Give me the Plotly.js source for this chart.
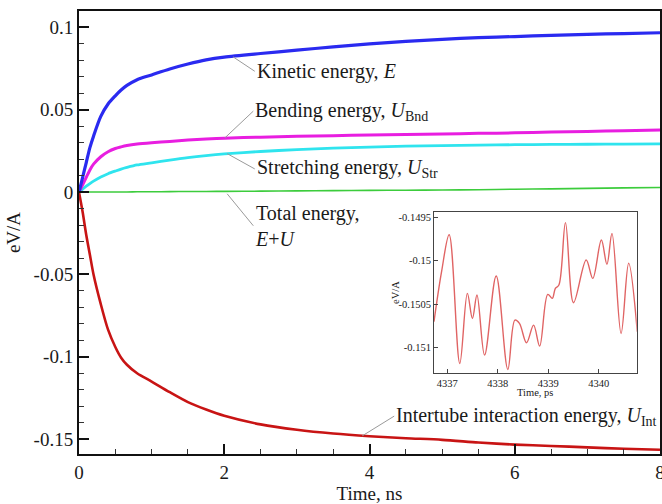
<!DOCTYPE html>
<html>
<head>
<meta charset="utf-8">
<script src="https://cdn.plot.ly/plotly-3.0.1.min.js"></script>
<style>html,body{margin:0;padding:0;background:#fff;}#chart{width:662px;height:504px;}</style>
</head>
<body>
<div id="chart"></div>
<script>
// Main chart: time (ns) and energies (eV/A)
var timeNs = [0, 0.05, 0.1, 0.15, 0.2, 0.3, 0.4, 0.5, 0.58, 0.66, 0.8, 1.0, 1.25, 1.5, 1.75, 2.0, 2.5, 3.0, 3.5, 4.0, 4.5, 5.0, 5.5, 6.0, 6.5, 7.0, 7.5, 8.0];
var kineticE = [0, 0.009, 0.018, 0.027, 0.034, 0.046, 0.0535, 0.0585, 0.062, 0.0648, 0.0683, 0.0712, 0.0748, 0.0778, 0.0803, 0.0820, 0.0842, 0.0862, 0.0882, 0.0900, 0.0915, 0.0928, 0.0938, 0.0945, 0.0952, 0.0958, 0.0963, 0.0968];
var bendingU = [0, 0.0045, 0.009, 0.0135, 0.017, 0.0215, 0.0245, 0.0265, 0.0275, 0.0283, 0.0292, 0.0300, 0.0308, 0.0316, 0.0323, 0.0328, 0.0334, 0.0339, 0.0343, 0.0347, 0.0350, 0.0353, 0.0357, 0.0360, 0.0365, 0.0369, 0.0373, 0.0378];
var stretchingU = [0, 0.0018, 0.0036, 0.0052, 0.0067, 0.0092, 0.0112, 0.0128, 0.014, 0.015, 0.0165, 0.0178, 0.0195, 0.021, 0.0222, 0.0232, 0.0247, 0.0258, 0.0267, 0.0274, 0.0279, 0.0283, 0.0286, 0.0288, 0.029, 0.0291, 0.0292, 0.0293];
var totalEU = [0, 0, 0.00005, 0.0001, 0.0001, 0.0001, 0.0001, 0.0001, 0.0001, 0.0001, 0.0002, 0.0002, 0.0003, 0.0004, 0.0004, 0.0005, 0.0006, 0.0008, 0.0009, 0.0011, 0.0012, 0.0013, 0.0015, 0.0018, 0.002, 0.0023, 0.0026, 0.0028];
var intertubeU = [0, -0.012, -0.026, -0.038, -0.050, -0.068, -0.0835, -0.094, -0.1005, -0.1048, -0.1100, -0.1150, -0.1215, -0.1275, -0.1320, -0.1358, -0.1410, -0.1443, -0.1466, -0.1482, -0.1494, -0.1504, -0.1520, -0.1533, -0.1541, -0.1550, -0.1558, -0.1564];

// Inset: time (ps) and intertube energy (eV/A)
var insetTimePs = [4336.74, 4336.89, 4337.04, 4337.25, 4337.40, 4337.50, 4337.59, 4337.74, 4337.97, 4338.20, 4338.34, 4338.43, 4338.57, 4338.71, 4338.83, 4338.99, 4339.08, 4339.14, 4339.21, 4339.34, 4339.50, 4339.75, 4339.88, 4340.05, 4340.16, 4340.26, 4340.44, 4340.59, 4340.76];
var insetEnergy = [-0.15070, -0.150125, -0.14970, -0.151181, -0.150375, -0.150663, -0.150394, -0.151085, -0.150175, -0.151250, -0.150682, -0.15072, -0.150943, -0.15074, -0.150981, -0.150386, -0.150432, -0.150317, -0.150279, -0.149561, -0.150482, -0.149991, -0.150202, -0.149761, -0.150041, -0.149684, -0.150836, -0.150029, -0.150816];

// Tick labels
var xTickVals = [0, 2, 4, 6, 8];
var xTickText = ['0', '2', '4', '6', '8'];
var yTickVals = [-0.15, -0.1, -0.05, 0, 0.05, 0.1];
var yTickText = ['-0.15', '-0.1', '-0.05', '0', '0.05', '0.1'];
var insetXTickVals = [4337, 4338, 4339, 4340];
var insetXTickText = ['4337', '4338', '4339', '4340'];
var insetYTickVals = [-0.151, -0.1505, -0.15, -0.1495];
var insetYTickText = ['-0.151', '-0.1505', '-0.15', '-0.1495'];

var serif = 'Liberation Serif, Times New Roman, serif';

function curve(y, color, w) {
  return {x: timeNs, y: y, type: 'scatter', mode: 'lines',
    line: {color: color, width: w, shape: 'spline', smoothing: 0.8},
    xaxis: 'x', yaxis: 'y', hoverinfo: 'skip'};
}

var data = [
  curve(totalEU, '#3ccc3c', 1.6),
  curve(stretchingU, '#2fe4ee', 2.8),
  curve(bendingU, '#e81ee0', 3),
  curve(kineticE, '#2a2af0', 3.2),
  curve(intertubeU, '#c81414', 2.6),
  {x: insetTimePs, y: insetEnergy, type: 'scatter', mode: 'lines',
   line: {color: '#e06464', width: 1.4, shape: 'spline', smoothing: 1},
   xaxis: 'x2', yaxis: 'y2', hoverinfo: 'skip'}
];

var leader = {showarrow: true, arrowhead: 0, arrowwidth: 1, arrowcolor: '#9a9a9a',
  axref: 'x', ayref: 'y', xanchor: 'left', yanchor: 'middle', align: 'left',
  font: {family: serif, size: 20, color: '#1a1a1a'}, standoff: 0, startstandoff: 0};
function note(text, hx, hy, tx, ty) {
  return Object.assign({}, leader, {text: text, x: hx, y: hy, ax: tx, ay: ty, xref: 'x', yref: 'y'});
}

var layout = {
  width: 662, height: 504,
  margin: {l: 79, r: 2, t: 11, b: 50},
  paper_bgcolor: '#fff', plot_bgcolor: '#fff',
  showlegend: false,
  font: {family: serif, size: 19, color: '#1a1a1a'},
  xaxis: {
    range: [0, 8], tickmode: 'array', tickvals: xTickVals, ticktext: xTickText,
    ticklabeloverflow: 'allow',
    ticks: 'inside', ticklen: 10, tickwidth: 2, tickcolor: '#111',
    minor: {dtick: 0.5, tick0: 0, ticks: 'inside', ticklen: 5, tickwidth: 1, tickcolor: '#333'},
    showline: true, linecolor: '#111', linewidth: 2, mirror: true,
    showgrid: false, zeroline: false,
    tickfont: {family: serif, size: 19, color: '#1a1a1a'},
    title: {text: 'Time, ns', font: {family: serif, size: 19, color: '#1a1a1a'}, standoff: 6}
  },
  yaxis: {
    range: [-0.159, 0.11], tickmode: 'array', tickvals: yTickVals, ticktext: yTickText,
    ticks: 'inside', ticklen: 10, tickwidth: 2, tickcolor: '#111',
    minor: {dtick: 0.01, tick0: 0, ticks: 'inside', ticklen: 5, tickwidth: 1, tickcolor: '#333'},
    showline: true, linecolor: '#111', linewidth: 2, mirror: true,
    showgrid: false, zeroline: false,
    tickfont: {family: serif, size: 19, color: '#1a1a1a'},
    title: {text: 'eV/A', font: {family: serif, size: 19, color: '#1a1a1a'}, standoff: 8}
  },
  xaxis2: {
    domain: [0.611, 0.960], anchor: 'y2', range: [4336.74, 4340.75],
    tickmode: 'array', tickvals: insetXTickVals, ticktext: insetXTickText,
    ticks: 'inside', ticklen: 4, tickwidth: 1, tickcolor: '#444',
    showline: true, linecolor: '#444', linewidth: 1, mirror: true,
    showgrid: false, zeroline: false,
    tickfont: {family: serif, size: 10.5, color: '#1a1a1a'}
  },
  yaxis2: {
    domain: [0.183, 0.546], anchor: 'x2', range: [-0.15129, -0.14944],
    tickmode: 'array', tickvals: insetYTickVals, ticktext: insetYTickText,
    ticks: 'inside', ticklen: 4, tickwidth: 1, tickcolor: '#444',
    showline: true, linecolor: '#444', linewidth: 1, mirror: true,
    showgrid: false, zeroline: false,
    tickfont: {family: serif, size: 10.5, color: '#1a1a1a'}
  },
  annotations: [
    note('Kinetic energy, <i>E</i>', 2.12, 0.0822, 2.42, 0.0734),
    note('Bending energy, <i>U</i><sub>Bnd</sub>', 2.01, 0.0330, 2.40, 0.0492),
    note('Stretching energy, <i>U</i><sub>Str</sub>', 2.04, 0.0234, 2.42, 0.0141),
    note('Total energy,<br><i>E</i>+<i>U</i>', 2.04, -0.001, 2.40, -0.0204),
    note('Intertube interaction energy, <i>U</i><sub>Int</sub>', 3.90, -0.1480, 4.34, -0.1360),
    {text: 'Time, ps', xref: 'paper', yref: 'paper', x: 0.7855, y: 0.138, showarrow: false,
     xanchor: 'center', yanchor: 'middle', font: {family: serif, size: 10.5, color: '#1a1a1a'}},
    {text: 'eV/A', xref: 'paper', yref: 'paper', x: 0.545, y: 0.365, showarrow: false, textangle: -90,
     xanchor: 'center', yanchor: 'middle', font: {family: serif, size: 10.5, color: '#1a1a1a'}}
  ]
};

Plotly.newPlot('chart', data, layout, {displayModeBar: false, staticPlot: true});
</script>
</body>
</html>
